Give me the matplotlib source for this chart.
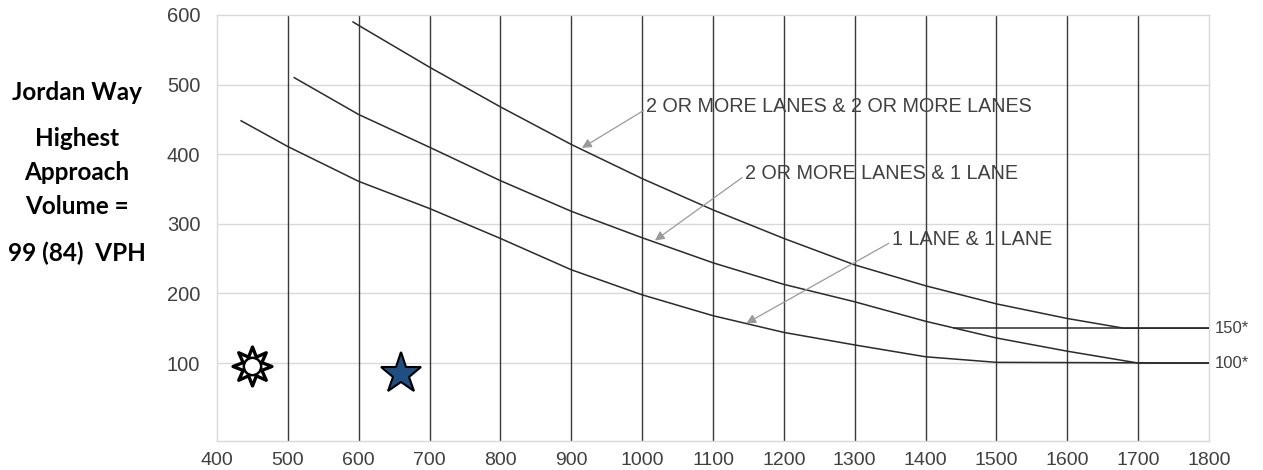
import numpy as np
import matplotlib
matplotlib.use("Agg")
import matplotlib.pyplot as plt
from matplotlib.path import Path

# ---- data ----
x_2p_2p = [592, 600, 700, 800, 900, 1000, 1100, 1200, 1300, 1400, 1500, 1600, 1680, 1800]
y_2p_2p = [590, 585, 525, 468, 414, 365, 320, 279, 241, 211, 185, 164, 150, 150]

x_2p_1 = [509, 600, 700, 800, 900, 1000, 1100, 1200, 1300, 1400, 1500, 1600, 1700, 1800]
y_2p_1 = [510, 457, 410, 362, 318, 280, 244, 213, 188, 160, 136, 117, 100, 100]

x_1_1 = [434, 500, 600, 700, 800, 900, 1000, 1100, 1200, 1300, 1400, 1500, 1800]
y_1_1 = [448, 411, 361, 322, 279, 234, 198, 168, 144, 126, 109, 101, 100]

x_150 = [1440, 1800]
y_150 = [150, 150]

sun_point = (450, 96)
star_point = (660, 84)

x_ticks = list(range(400, 1801, 100))
y_ticks = [100, 200, 300, 400, 500, 600]

left_lines = ["Jordan Way", "Highest", "Approach", "Volume =", "99 (84)  VPH"]

labels = ["2 OR MORE LANES & 2 OR MORE LANES", "2 OR MORE LANES & 1 LANE", "1 LANE & 1 LANE"]
label_text_xy = [(1006, 468), (1145, 372), (1352, 277)]
label_arrow_tip = [(915, 409), (1018, 276), (1147, 157)]

# ---- figure ----
W, H = 1263, 470
fig = plt.figure(figsize=(W / 100, H / 100), dpi=100)
ax = fig.add_axes([217 / W, 1 - 441 / H, (1209 - 217) / W, (441 - 15) / H])
ax.set_xlim(400, 1800)
ax.set_ylim(-12, 600)

font = "Liberation Sans"
gray_txt = "#404040"

# grid
for xv in x_ticks[1:-1]:
    ax.axvline(xv, color="#3a3a3a", lw=1.0, zorder=1)
for yv in y_ticks[:-1]:
    ax.axhline(yv, color="#d9d9d9", lw=1.0, zorder=0)
for s in ax.spines.values():
    s.set_color("#d9d9d9")
    s.set_linewidth(1.0)

ax.set_xticks(x_ticks)
ax.set_yticks(y_ticks)
ax.tick_params(axis="x", length=0, labelsize=14, labelcolor=gray_txt, pad=8)
ax.tick_params(axis="y", length=0, labelsize=14.5, labelcolor=gray_txt, pad=12)
for lab in ax.get_xticklabels() + ax.get_yticklabels():
    lab.set_fontfamily(font)

# curves
cc = "#2b2b2b"
ax.plot(x_2p_2p, y_2p_2p, color=cc, lw=1.1, zorder=3)
ax.plot(x_2p_1, y_2p_1, color=cc, lw=1.1, zorder=3)
ax.plot(x_1_1, y_1_1, color=cc, lw=1.1, zorder=3)
ax.plot(x_150, y_150, color=cc, lw=1.1, zorder=3)

# annotations
for txt, (tx, ty), (ax_, ay_) in zip(labels, label_text_xy, label_arrow_tip):
    ax.annotate(txt, xy=(ax_, ay_), xytext=(tx, ty), textcoords="data",
                fontsize=14.2, fontfamily=font, color=gray_txt, ha="left", va="center",
                zorder=5,
                arrowprops=dict(arrowstyle="-|>", color="#9a9a9a", lw=0.9,
                                mutation_scale=14, shrinkA=0, shrinkB=0,
                                relpos=(0, 0.4)))

ax.text(1808, 150, "150*", fontsize=12, fontfamily=font, color=gray_txt,
        ha="left", va="center", clip_on=False)
ax.text(1808, 100, "100*", fontsize=12, fontfamily=font, color=gray_txt,
        ha="left", va="center", clip_on=False)

# sun marker: 8-point star + circle
n = 8
ang = np.linspace(0, 2 * np.pi, 2 * n, endpoint=False) + np.pi / 2
rad = np.where(np.arange(2 * n) % 2 == 0, 1.0, 0.52)
verts = np.column_stack([rad * np.cos(ang), rad * np.sin(ang)])
verts = np.vstack([verts, verts[:1]])
codes = [Path.MOVETO] + [Path.LINETO] * (2 * n - 1) + [Path.CLOSEPOLY]
sun_path = Path(verts, codes)
ax.plot([sun_point[0]], [sun_point[1]], marker=sun_path, markersize=28,
        markerfacecolor="white", markeredgecolor="black", markeredgewidth=2.4,
        linestyle="none", zorder=6)
ax.plot([sun_point[0]], [sun_point[1]], marker="o", markersize=12.5,
        markerfacecolor="white", markeredgecolor="black", markeredgewidth=1.8,
        linestyle="none", zorder=7)

# star marker
ax.plot([star_point[0]], [star_point[1]], marker="*", markersize=31,
        markerfacecolor="#1f4e82", markeredgecolor="black", markeredgewidth=1.5,
        linestyle="none", zorder=6)

# left text block
left_y = [92, 138, 173, 207, 253]
for t, py in zip(left_lines, left_y):
    fig.text(77 / W, 1 - py / H, t, fontsize=17.5, fontweight="bold", fontfamily="Lato",
             color="black", ha="center", va="center")

fig.savefig("out.png", dpi=100, facecolor="white")
